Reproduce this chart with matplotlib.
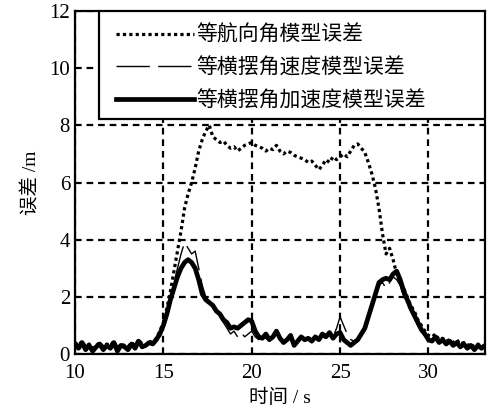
import numpy as np
import matplotlib
matplotlib.use('Agg')
import matplotlib.pyplot as plt
from matplotlib.patches import Rectangle

plt.rcParams['font.family'] = ['Liberation Serif', 'Noto Sans CJK SC']

# sampled every 0.2 s starting at 10 s
t0 = 10.0
dt = 0.2

heading_err = [0.4, 0.3, 0.45, 0.25, 0.35, 0.2, 0.3, 0.4, 0.25, 0.35, 0.3, 0.45, 0.2, 0.35, 0.3, 0.25,
               0.4, 0.3, 0.5, 0.35, 0.3, 0.45, 0.4,
               0.55, 0.8, 1.1, 1.6, 2.2, 2.9, 3.6, 4.3, 5.1, 5.6, 6.0, 6.5, 7.1, 7.5, 7.8, 8.0,
               7.6, 7.5, 7.4, 7.45, 7.3, 7.2, 7.25, 7.1, 7.2, 7.3, 7.35, 7.4, 7.3, 7.25, 7.2, 7.1,
               7.2, 7.15, 7.3, 7.1, 7.0, 7.1, 7.05, 6.95, 6.9, 6.85, 6.8, 6.7, 6.75, 6.6, 6.45, 6.6,
               6.8, 6.7, 6.9, 6.8, 6.9, 7.0, 6.9, 7.1, 7.3, 7.35, 7.2, 7.05, 6.7, 6.3, 5.8, 5.1,
               4.2, 3.5, 3.7, 3.3, 2.8, 2.5, 2.3, 2.0, 1.7, 1.5, 1.2, 1.0, 0.8, 0.65, 0.6, 0.7,
               0.5, 0.55, 0.45, 0.5, 0.4, 0.5, 0.35, 0.4, 0.3, 0.35, 0.25, 0.35, 0.25, 0.3]

rate_err = [0.3, 0.25, 0.35, 0.2, 0.25, 0.15, 0.3, 0.3, 0.2, 0.25, 0.25, 0.35, 0.15, 0.25, 0.3, 0.2,
            0.3, 0.25, 0.4, 0.3, 0.25, 0.35, 0.4,
            0.5, 0.75, 1.05, 1.5, 2.0, 2.5, 3.0, 3.5, 3.9, 3.7, 3.5, 3.6, 3.0, 2.4, 2.0, 1.8,
            1.65, 1.5, 1.3, 1.1, 0.9, 0.7, 0.8, 0.6, 0.75, 0.6, 0.7, 0.8, 0.6, 0.5, 0.6, 0.55,
            0.45, 0.55, 0.7, 0.5, 0.4, 0.45, 0.55, 0.35, 0.45, 0.5, 0.45, 0.5, 0.4, 0.55, 0.5, 0.6,
            0.55, 0.7, 0.6, 0.9, 1.3, 1.0, 0.7, 0.5, 0.45, 0.55, 0.75, 0.95, 1.35, 1.8, 2.2, 2.4,
            2.5, 2.3, 2.5, 2.7, 2.6, 2.4, 2.0, 1.75, 1.5, 1.25, 1.0, 0.8, 0.6, 0.45, 0.5, 0.55,
            0.4, 0.45, 0.4, 0.4, 0.35, 0.4, 0.3, 0.3, 0.25, 0.3, 0.2, 0.3, 0.25, 0.3]

accel_err = [0.35, 0.2, 0.4, 0.15, 0.3, 0.1, 0.25, 0.35, 0.15, 0.3, 0.2, 0.4, 0.1, 0.3, 0.25, 0.15,
             0.35, 0.2, 0.45, 0.25, 0.3, 0.4, 0.35,
             0.5, 0.7, 1.0, 1.4, 1.9, 2.3, 2.7, 3.0, 3.2, 3.3, 3.2, 3.0, 2.6, 2.1, 1.9, 1.8,
             1.7, 1.5, 1.4, 1.2, 1.1, 0.9, 0.95, 0.9, 1.0, 1.1, 1.2, 1.15, 0.8, 0.6, 0.55, 0.7,
             0.5, 0.6, 0.8, 0.55, 0.4, 0.5, 0.65, 0.3, 0.45, 0.6, 0.5, 0.55, 0.45, 0.6, 0.5, 0.7,
             0.6, 0.75, 0.55, 0.7, 0.75, 0.5, 0.4, 0.3, 0.4, 0.5, 0.7, 0.9, 1.3, 1.7, 2.1, 2.5,
             2.6, 2.65, 2.6, 2.8, 2.9, 2.6, 2.2, 1.9, 1.6, 1.35, 1.1, 0.85, 0.7, 0.5, 0.45, 0.6,
             0.4, 0.5, 0.35, 0.45, 0.3, 0.4, 0.25, 0.35, 0.2, 0.3, 0.15, 0.3, 0.2, 0.3]

labels = ['等航向角模型误差', '等横摆角速度模型误差', '等横摆角加速度模型误差']

t = t0 + dt * np.arange(len(accel_err))

fig = plt.figure(figsize=(4.92, 4.11), dpi=100)
ax = fig.add_axes([0.1524, 0.1387, 0.8334, 0.8345])

ax.plot(t, heading_err, color='black', lw=2.3, linestyle=(0, (1, 1)), label=labels[0])
ax.plot(t, rate_err, color='black', lw=1.0, linestyle=(0, (24, 6)), label=labels[1])
ax.plot(t, accel_err, color='black', lw=3.4, label=labels[2])

ax.set_xlim(10, 33.2)
ax.set_ylim(0, 12)
ax.set_xticks([10, 15, 20, 25, 30])
ax.set_yticks([0, 2, 4, 6, 8, 10, 12])
ax.tick_params(direction='in', labelsize=15, length=3, width=1.2)
ax.tick_params(axis='x', pad=7)
ax.grid(True, color='black', linestyle=(0, (3, 2.2)), lw=1.6)
for s in ax.spines.values():
    s.set_linewidth(1.6)

ax.set_xlabel('时间 / s', fontsize=14, labelpad=4)
ax.set_ylabel('误差 /m', fontsize=14, labelpad=6)

# legend box drawn by hand so the frame can be wider than its content
box = Rectangle((0.0585, 0.685), 0.9415, 0.315, transform=ax.transAxes,
                facecolor='white', edgecolor='black', lw=1.6, zorder=4)
ax.add_patch(box)
leg = ax.legend(loc='upper left', bbox_to_anchor=(0.1, 0.957),
                borderaxespad=0, frameon=False, fontsize=15, handlelength=3.75,
                handletextpad=0.1, labelspacing=0.6, borderpad=0)
leg.set_zorder(5)

plt.savefig('out.png', dpi=100)
